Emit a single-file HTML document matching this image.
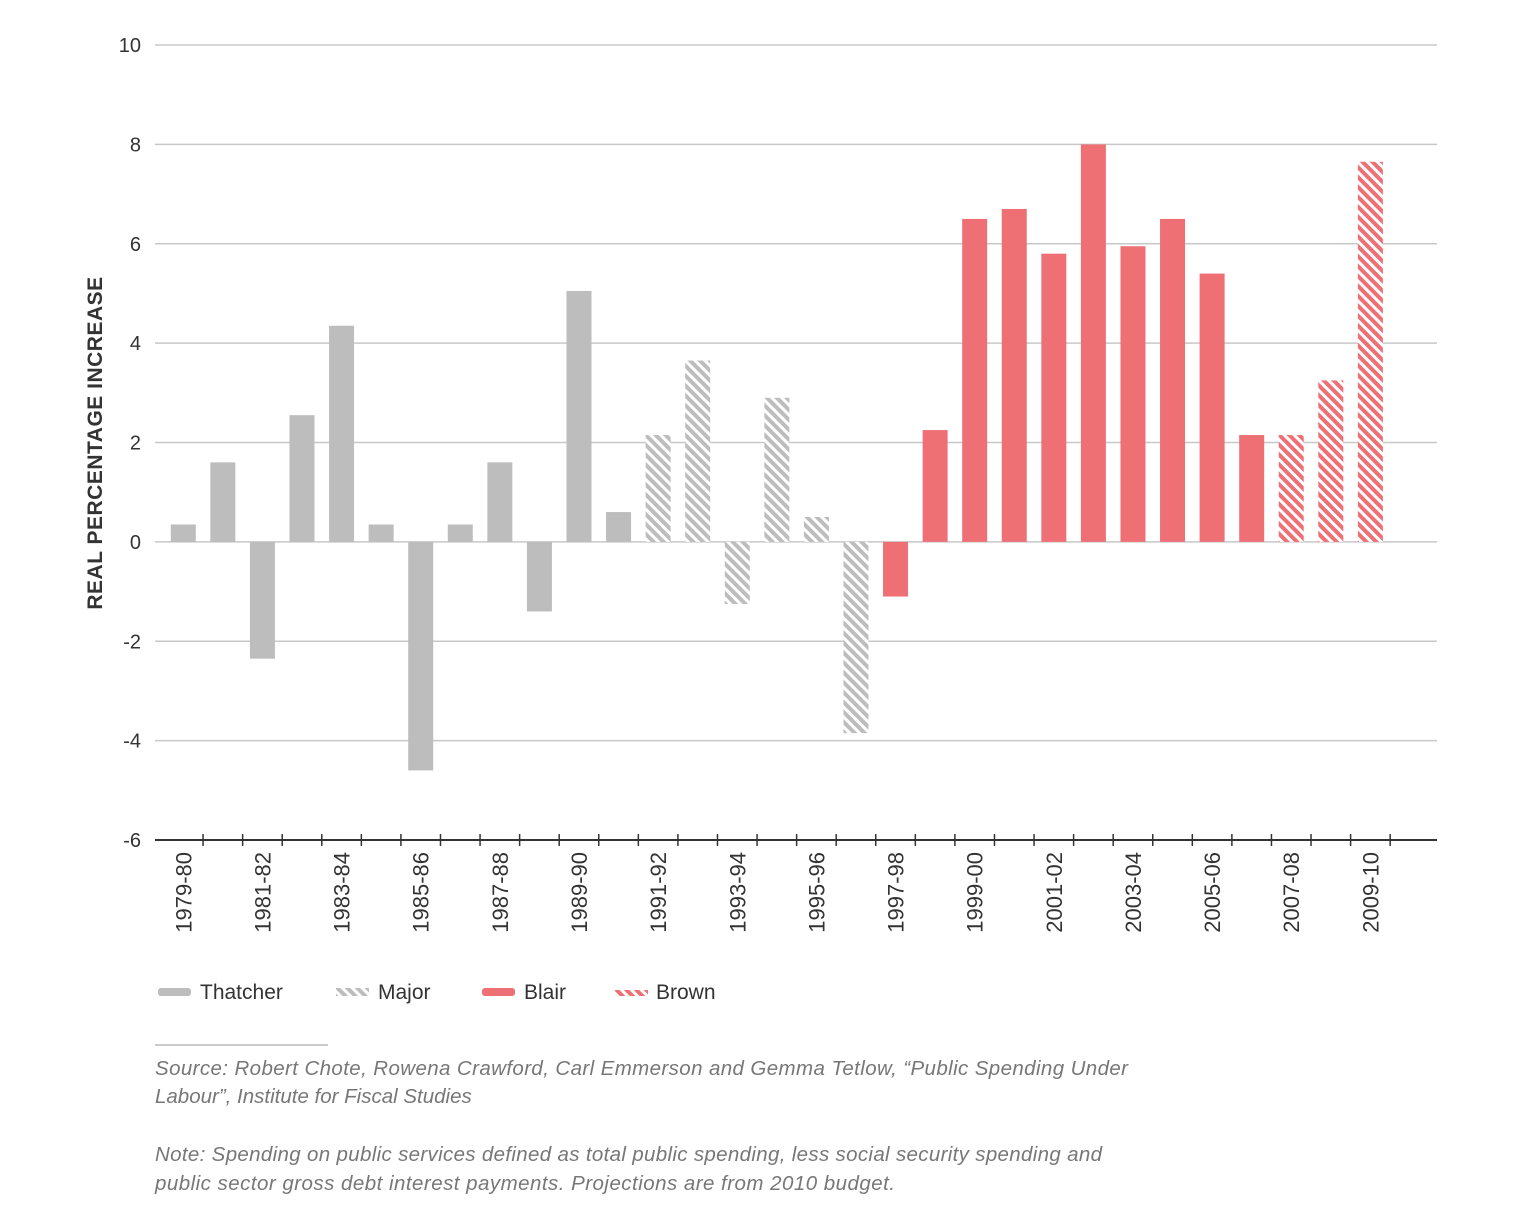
<!DOCTYPE html>
<html><head><meta charset="utf-8"><style>
body{margin:0;background:#fff;}
svg text{font-family:"Liberation Sans",sans-serif;}
</style></head><body>
<svg width="1520" height="1227" viewBox="0 0 1520 1227">
<defs>
<pattern id="hg" patternUnits="userSpaceOnUse" width="7" height="7" patternTransform="rotate(-45)"><rect width="7" height="7" fill="#fff"/><rect width="4" height="7" fill="#bdbdbd"/></pattern>
<pattern id="hr" patternUnits="userSpaceOnUse" width="7" height="7" patternTransform="rotate(-45)"><rect width="7" height="7" fill="#fff"/><rect width="4" height="7" fill="#ee7075"/></pattern>
</defs>
<g id="grid"></g><g id="bars"></g><g id="axis"></g>
<text transform="translate(102,443) rotate(-90)" text-anchor="middle" font-size="21" font-weight="bold" fill="#333" letter-spacing="0.5">REAL PERCENTAGE INCREASE</text>
<g font-size="21" fill="#333">
<rect x="158" y="988" width="33" height="8" rx="3" fill="#bdbdbd"/><text x="200" y="999">Thatcher</text>
<rect x="336" y="988" width="33" height="8" fill="url(#hg)"/><text x="378" y="999">Major</text>
<rect x="482" y="988" width="33" height="8" rx="3" fill="#ee7075"/><text x="524" y="999">Blair</text>
<rect x="615" y="990" width="33" height="6" fill="url(#hr)"/><text x="656" y="999">Brown</text>
</g>
<line x1="155" y1="1045" x2="328" y2="1045" stroke="#bbb" stroke-width="1.5"/>
<g font-size="20.5" font-style="italic" fill="#777">
<text x="155" y="1075" textLength="973">Source: Robert Chote, Rowena Crawford, Carl Emmerson and Gemma Tetlow, “Public Spending Under</text>
<text x="155" y="1103">Labour”, Institute for Fiscal Studies</text>
<text x="155" y="1161" textLength="947">Note: Spending on public services defined as total public spending, less social security spending and</text>
<text x="155" y="1190" textLength="740">public sector gross debt interest payments. Projections are from 2010 budget.</text>
</g>
</svg>
<script>
const categories=["1979-80","1980-81","1981-82","1982-83","1983-84","1984-85","1985-86","1986-87","1987-88","1988-89","1989-90","1990-91","1991-92","1992-93","1993-94","1994-95","1995-96","1996-97","1997-98","1998-99","1999-00","2000-01","2001-02","2002-03","2003-04","2004-05","2005-06","2006-07","2007-08","2008-09","2009-10"];
const values=[0.35,1.6,-2.35,2.55,4.35,0.35,-4.6,0.35,1.6,-1.4,5.05,0.6,2.15,3.65,-1.25,2.9,0.5,-3.85,-1.1,2.25,6.5,6.7,5.8,8.0,5.95,6.5,5.4,2.15,2.15,3.25,7.65];
const governments=["Thatcher","Thatcher","Thatcher","Thatcher","Thatcher","Thatcher","Thatcher","Thatcher","Thatcher","Thatcher","Thatcher","Thatcher","Major","Major","Major","Major","Major","Major","Blair","Blair","Blair","Blair","Blair","Blair","Blair","Blair","Blair","Blair","Brown","Brown","Brown"];
const yTicks=[-6,-4,-2,0,2,4,6,8,10];
const NS="http://www.w3.org/2000/svg";
const y=v=>840-(v+6)*(795/16);
const x0=163.5, step=39.57, bw=25;
const x=i=>x0+i*step;
const fills={Thatcher:"#bdbdbd",Major:"url(#hg)",Blair:"#ee7075",Brown:"url(#hr)"};
function mk(tag,attrs,parent){const e=document.createElementNS(NS,tag);for(const k in attrs)e.setAttribute(k,attrs[k]);parent.appendChild(e);return e;}
const grid=document.getElementById('grid'),bars=document.getElementById('bars'),axis=document.getElementById('axis');
yTicks.forEach(t=>{
  if(t>-6){const l=mk('line',{x1:155,x2:1437,y1:y(t),y2:y(t),stroke:'#c8c8c8','stroke-width':1.5},grid);
  
  }
  const tx=mk('text',{x:141,y:y(t)+7,'text-anchor':'end','font-size':20,fill:'#333'},grid);
  
  
  tx.textContent=t;
});
values.forEach((v,i)=>{
  const top=Math.min(y(v),y(0)), h=Math.abs(y(v)-y(0));
  const r=mk('rect',{x:x(i)+(step-bw)/2,y:top,width:bw,height:h,fill:fills[governments[i]]},bars);
  
  
});
const ax=mk('line',{x1:155,x2:1437,y1:840,y2:840,stroke:'#333','stroke-width':2},axis);


for(let i=1;i<=categories.length;i++){
  const t=mk('line',{x1:x(i),x2:x(i),y1:834,y2:846,stroke:'#333','stroke-width':1.5},axis);
  
  
}
categories.forEach((c,i)=>{
  if(i%2) return;
  const cx=x(i)+step/2+8;
  const t=mk('text',{transform:`translate(${cx},852) rotate(-90)`,'text-anchor':'end','font-size':22,fill:'#333'},axis);
  
  
  t.textContent=c;
});
</script>
</body></html>
